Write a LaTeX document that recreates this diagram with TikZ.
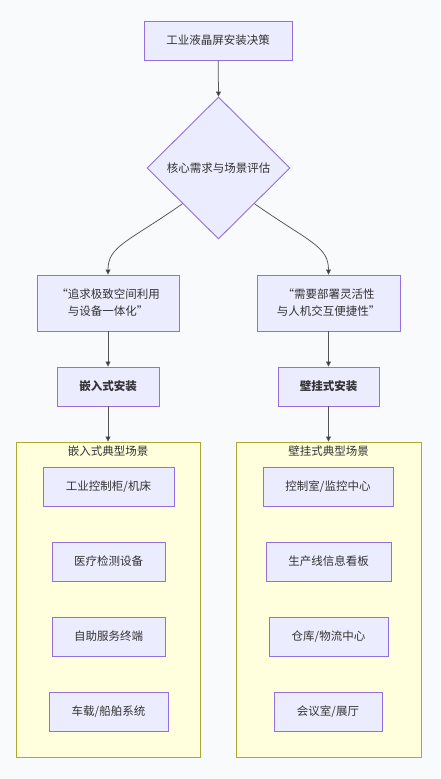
\documentclass[tikz,border=0pt]{standalone}
\usepackage{fontspec}
\setmainfont{Noto Sans CJK SC}
\usetikzlibrary{shapes.geometric,arrows.meta}
\definecolor{bg}{HTML}{F9FAFB}
\definecolor{nodefill}{HTML}{ECECFF}
\definecolor{nodeline}{HTML}{9370DB}
\definecolor{clfill}{HTML}{FFFFDE}
\definecolor{clline}{HTML}{AAAA33}
\definecolor{txt}{HTML}{333333}
\definecolor{edgec}{HTML}{555555}
\tikzset{
  box/.style={draw=nodeline, fill=nodefill, line width=0.9pt, inner sep=0pt, text=txt, align=center, font=\fontsize{11.5}{17}\selectfont},
  cluster/.style={draw=clline, fill=clfill, line width=0.9pt, inner sep=0pt},
  cltitle/.style={text=txt, font=\fontsize{11.5}{14}\selectfont, inner sep=0pt},
  edge/.style={draw=edgec, line width=0.75pt, -{Triangle[length=5pt,width=5pt,fill=txt]}},
}
\begin{document}
\begin{tikzpicture}[x=1pt,y=-1pt]
\fill[bg] (0,0) rectangle (440,779);
\useasboundingbox (0,0) rectangle (440,779);
% clusters
\node[cluster, minimum width=184pt, minimum height=315pt] (cl1) at (108,599.5) {};
\node[cluster, minimum width=185pt, minimum height=315pt] (cl2) at (328.5,599.5) {};
\node[cltitle] (t1) at (108,451) {嵌入式典型场景};
\node[cltitle] (t2) at (328.5,451) {壁挂式典型场景};
% main nodes
\node[box, minimum width=148pt, minimum height=39pt] (top) at (218,40.5) {工业液晶屏安装决策};
\node[box, shape=diamond, aspect=1, minimum width=143pt, minimum height=142pt] (dia) at (218.5,168) {核心需求与场景评估};
\node[box, minimum width=142pt, minimum height=56pt] (q1) at (108,303) {“追求极致空间利用\\与设备一体化”};
\node[box, minimum width=143pt, minimum height=56pt] (q2) at (328.5,303) {“需要部署灵活性\\与人机交互便捷性”};
\node[box, minimum width=102pt, minimum height=39pt, font=\fontsize{11.5}{14}\selectfont\bfseries] (e) at (108,386.5) {嵌入式安装};
\node[box, minimum width=101pt, minimum height=39pt, font=\fontsize{11.5}{14}\selectfont\bfseries] (w) at (328.5,386.5) {壁挂式安装};
% left items
\node[box, minimum width=131pt, minimum height=39pt] (l1) at (108.5,486.5) {工业控制柜/机床};
\node[box, minimum width=113pt, minimum height=39pt] (l2) at (108.5,561.5) {医疗检测设备};
\node[box, minimum width=113pt, minimum height=39pt] (l3) at (108.5,636.5) {自助服务终端};
\node[box, minimum width=119pt, minimum height=39pt] (l4) at (108.5,711.5) {车载/船舶系统};
% right items
\node[box, minimum width=130pt, minimum height=39pt] (r1) at (328,486.5) {控制室/监控中心};
\node[box, minimum width=125pt, minimum height=39pt] (r2) at (328.5,561.5) {生产线信息看板};
\node[box, minimum width=119pt, minimum height=39pt] (r3) at (328.5,636.5) {仓库/物流中心};
\node[box, minimum width=108pt, minimum height=39pt] (r4) at (328,711.5) {会议室/展厅};
% edges
\draw[edge] (top) -- (dia.north);
\draw[edge] (dia.south west) .. controls (128,242) and (108,246) .. (q1.north);
\draw[edge] (dia.south east) .. controls (309,242) and (328.5,246) .. (q2.north);
\draw[edge] (q1) -- (e);
\draw[edge] (q2) -- (w);
\draw[edge] (e) -- (cl1.north);
\draw[edge] (w) -- (cl2.north);
\end{tikzpicture}
\end{document}
